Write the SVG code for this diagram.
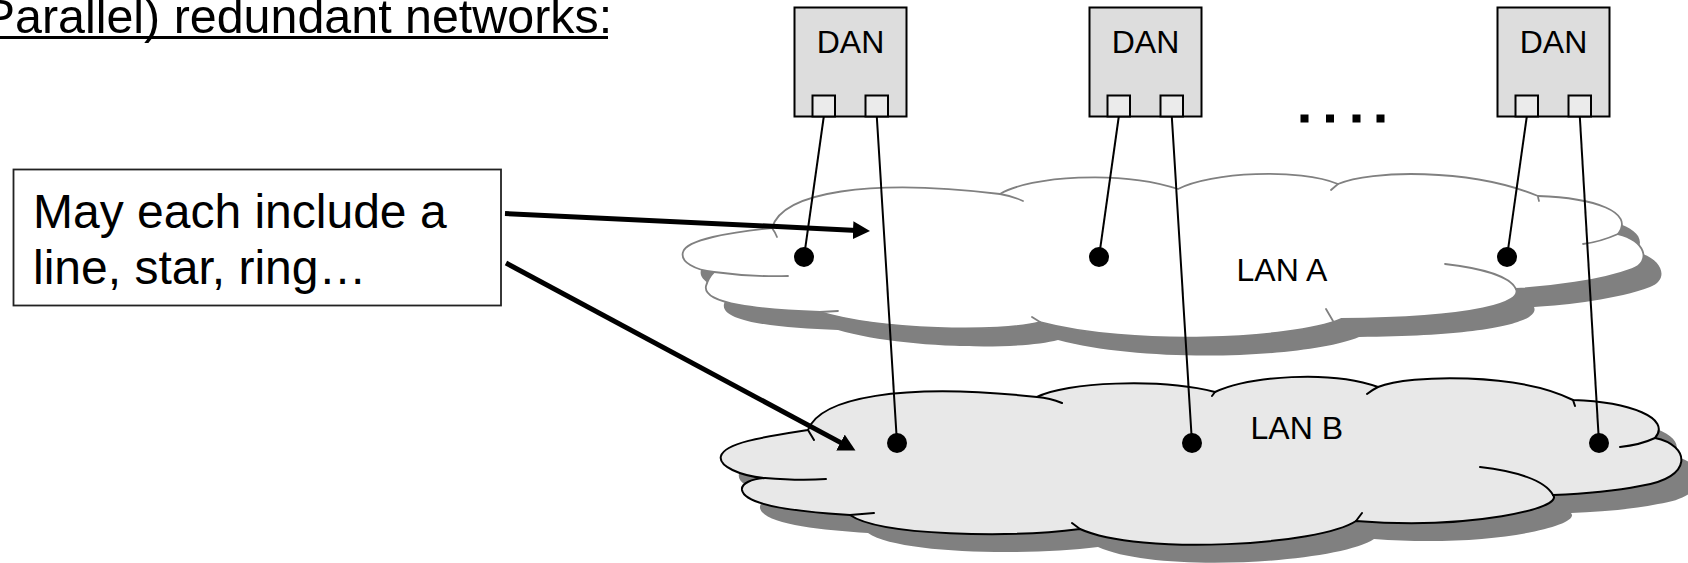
<svg xmlns="http://www.w3.org/2000/svg" width="1688" height="563" viewBox="0 0 1688 563">
<style>
  text { font-family: "Liberation Sans", Arial, sans-serif; fill: #000; }
  .title { font-size: 48.4px; }
  .note { font-size: 48px; }
  .lbl { font-size: 32px; }
  .dan { fill: #dddddd; stroke: #000; stroke-width: 2; }
  .port { fill: #ebebeb; stroke: #000; stroke-width: 2; }
  .shadow { fill: #808080; stroke: none; }
  .cloudA { fill: #ffffff; stroke: #808080; stroke-width: 1.8; stroke-linejoin: round; }
  .tailA { fill: none; stroke: #808080; stroke-width: 1.8; stroke-linecap: round; }
  .cloudB { fill: #e8e8e8; stroke: #000; stroke-width: 2; stroke-linejoin: round; }
  .tailB { fill: none; stroke: #000; stroke-width: 2; stroke-linecap: round; }
  .wire { stroke: #000; stroke-width: 2; fill: none; }
  .dot { fill: #000; }
  .arrow { stroke: #000; stroke-width: 5; fill: none; marker-end: url(#head); }
</style>
<defs>
  <marker id="head" markerUnits="userSpaceOnUse" markerWidth="20" markerHeight="20" refX="4" refY="9" orient="auto">
    <path d="M0,0 L17,9 L0,18 z" fill="#000"/>
  </marker>
  <path id="shapeA" d="M 772,228 C 782,192 870,178 1000,194 C 1030,176 1120,170 1178,189 C 1210,172 1300,168 1338,184 C 1370,170 1470,168 1538,196 C 1595,198 1635,212 1618,234 C 1645,240 1652,262 1632,269 C 1600,281 1550,287 1516,289 C 1522,302 1480,318 1341,319 C 1290,340 1130,346 1040,322 C 1000,333 880,330 820,312 C 760,310 702,304 706,286 C 708,279 711,275 714,272 C 695,270 680,262 683,252 C 686,240 730,232 772,228 Z"/>
  <path id="shapeB" d="M 808,430 C 820,398 900,382 1037,397 C 1065,382 1160,378 1215,392 C 1250,376 1330,370 1378,387 C 1410,374 1520,373 1573,400 C 1630,402 1672,418 1655,438 C 1690,445 1695,478 1640,486 C 1610,492 1580,494 1553,495 C 1565,508 1470,530 1356,521 C 1320,545 1140,556 1080,529 C 1010,538 880,536 850,515 C 800,512 745,506 742,490 C 741,483 752,479 765,478 C 740,476 718,466 721,456 C 725,442 770,436 808,430 Z"/>
</defs>

<g id="title">
  <text class="title" x="-17.3" y="33">Parallel) redundant networks:</text>
  <line x1="0" y1="37.5" x2="608" y2="37.5" stroke="#000" stroke-width="3"/>
</g>

<g id="note">
  <rect x="13.5" y="169.5" width="487.5" height="136" fill="#fff" stroke="#222" stroke-width="1.8"/>
  <text class="note" x="33" y="228">May each include a</text>
  <text class="note" x="33" y="284">line, star, ring…</text>
</g>

<g id="lanA">
  <use href="#shapeA" class="shadow" transform="translate(18,18)"/>
  <use href="#shapeA" class="cloudA"/>
  <path class="tailA" d="M 772,228 Q 775,232 777,237 M 1000,194 Q 1012,196 1023,201 M 1338,184 L 1331,190 M 1538,196 Q 1538,198 1539,201 M 1618,234 Q 1600,242 1583,244 M 1445,264 C 1480,268 1510,276 1516,289 M 1333,321 L 1326,309 M 1040,322 L 1032,317 M 820,312 L 838,311 M 714,272 Q 750,277 788,276"/>
  <text class="lbl" x="1236.5" y="281">LAN A</text>
</g>

<g id="lanB">
  <use href="#shapeB" class="shadow" transform="translate(18,18)"/>
  <use href="#shapeB" class="cloudB"/>
  <path class="tailB" d="M 808,430 Q 811,435 814,440 M 1037,397 Q 1050,398 1062,403 M 1215,392 L 1212,396 M 1378,387 Q 1372,390 1367,394 M 1573,400 L 1575,406 M 1655,438 Q 1640,445 1620,447 M 1480,467 C 1515,471 1545,480 1553,495 M 1356,521 L 1362,513 M 1080,529 L 1072,523 M 850,515 L 874,513 M 765,478 Q 800,481 826,479"/>
  <text class="lbl" x="1250.5" y="439">LAN B</text>
</g>

<g id="dan1">
  <rect class="dan" x="794.5" y="7.5" width="112" height="109"/>
  <rect class="port" x="812.5" y="95.5" width="22.5" height="21"/>
  <rect class="port" x="865.5" y="95.5" width="22.5" height="21"/>
  <text class="lbl" x="850.5" y="53" text-anchor="middle">DAN</text>
</g>
<g id="dan2">
  <rect class="dan" x="1089.5" y="7.5" width="112" height="109"/>
  <rect class="port" x="1107.5" y="95.5" width="22.5" height="21"/>
  <rect class="port" x="1160.5" y="95.5" width="22.5" height="21"/>
  <text class="lbl" x="1145.5" y="53" text-anchor="middle">DAN</text>
</g>
<g id="dan3">
  <rect class="dan" x="1497.5" y="7.5" width="112" height="109"/>
  <rect class="port" x="1515.5" y="95.5" width="22.5" height="21"/>
  <rect class="port" x="1568.5" y="95.5" width="22.5" height="21"/>
  <text class="lbl" x="1553.5" y="53" text-anchor="middle">DAN</text>
</g>

<g id="ellipsis" fill="#000">
  <rect x="1300.5" y="114.5" width="8" height="8"/>
  <rect x="1326" y="114.5" width="8" height="8"/>
  <rect x="1352.5" y="114.5" width="8" height="8"/>
  <rect x="1376.5" y="114.5" width="8" height="8"/>
</g>

<g id="connectors">
  <line class="wire" x1="823.8" y1="116.5" x2="804" y2="257"/>
  <line class="wire" x1="876.8" y1="116.5" x2="897" y2="443"/>
  <line class="wire" x1="1118.8" y1="116.5" x2="1099" y2="257"/>
  <line class="wire" x1="1171.8" y1="116.5" x2="1192" y2="443"/>
  <line class="wire" x1="1526.8" y1="116.5" x2="1507" y2="257"/>
  <line class="wire" x1="1579.8" y1="116.5" x2="1599" y2="443"/>
  <circle class="dot" cx="804" cy="257" r="10"/>
  <circle class="dot" cx="1099" cy="257" r="10"/>
  <circle class="dot" cx="1507" cy="257" r="10"/>
  <circle class="dot" cx="897" cy="443" r="10"/>
  <circle class="dot" cx="1192" cy="443" r="10"/>
  <circle class="dot" cx="1599" cy="443" r="10"/>
  <path class="arrow" d="M 505,213.5 L 857,230.4"/>
  <path class="arrow" d="M 506,263 L 844,444.4"/>
</g>
</svg>
